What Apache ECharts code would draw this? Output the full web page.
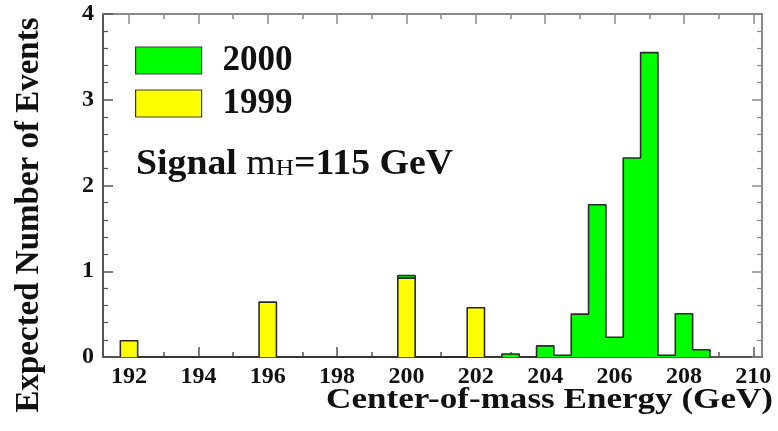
<!DOCTYPE html>
<html>
<head>
<meta charset="utf-8">
<script src="https://cdn.jsdelivr.net/npm/echarts@6/dist/echarts.min.js"></script>
<style>
  html, body { margin: 0; padding: 0; background: #ffffff; }
  #chart { width: 778px; height: 431px; }
</style>
</head>
<body>
<div id="chart"></div>
<script>
// Expected signal events per 0.5 GeV bin of centre-of-mass energy
const energies1999 = [192, 196, 200, 202];
const events1999   = [0.19, 0.64, 0.92, 0.575];

const energies2000 = [200, 203, 204, 204.5, 205, 205.5, 206, 206.5, 207, 207.5, 208, 208.5];
const events2000   = [0.03, 0.035, 0.13, 0.02, 0.50, 1.775, 0.23, 2.32, 3.55, 0.02, 0.505, 0.085];

const xMajorTicks = [192, 194, 196, 198, 200, 202, 204, 206, 208, 210];
const xMinorTicks = [193, 195, 197, 199, 201, 203, 205, 207, 209];

const BIN_WIDTH = 0.5;
const X_MIN = 191.25;
const X_MAX = 210.25;

const FONT = '"Liberation Serif", "Times New Roman", serif';
const GREEN = '#00ff00';
const YELLOW = '#ffff00';
const OUTLINE = '#2a2a2a';

// bin index -> value
function binMap(centers, values) {
  const m = new Map();
  centers.forEach((c, i) => m.set(Math.round(c / BIN_WIDTH), values[i]));
  return m;
}

// histogram contour as left-edge points, drawn with step:'end'
function stepOutline(map, first, last) {
  const pts = [[(first - 0.5) * BIN_WIDTH, 0]];
  for (let k = first; k <= last; k++) {
    pts.push([(k - 0.5) * BIN_WIDTH, map.get(k) || 0]);
  }
  pts.push([(last + 0.5) * BIN_WIDTH, map.get(last) || 0]);
  pts.push([(last + 0.5) * BIN_WIDTH, 0]);
  return pts;
}

const map1999 = binMap(energies1999, events1999);
const map2000 = binMap(energies2000, events2000);

// 2000 is stacked on top of 1999
const mapTotal = new Map(map2000);
map1999.forEach((v, k) => { if (mapTotal.has(k)) mapTotal.set(k, mapTotal.get(k) + v); });

const idx1999 = energies1999.map(c => Math.round(c / BIN_WIDTH));
const idx2000 = energies2000.map(c => Math.round(c / BIN_WIDTH));

const outline1999 = stepOutline(map1999, Math.min(...idx1999), Math.max(...idx1999));
const outline2000 = stepOutline(mapTotal, Math.min(...idx2000), Math.max(...idx2000));

const frameDark = '#555555';
const frameLight = '#8a8a8a';

function xAxisDef(position, values, length, showLine, showLabel, color) {
  return {
    type: 'value',
    position: position,
    min: X_MIN,
    max: X_MAX,
    splitLine: { show: false },
    axisLine: { show: showLine, onZero: false, lineStyle: { color: color, width: 2 } },
    axisTick: { show: true, inside: true, length: length, customValues: values,
                lineStyle: { color: color, width: 1.5 } },
    axisLabel: showLabel ? {
      show: true, customValues: values, margin: 8,
      fontFamily: FONT, fontWeight: 'bold', fontSize: 24, color: '#111111'
    } : { show: false }
  };
}

function yAxisDef(position, showLabel, color) {
  return {
    type: 'value',
    position: position,
    min: 0,
    max: 4,
    interval: 1,
    splitLine: { show: false },
    minorSplitLine: { show: false },
    axisLine: { show: true, onZero: false, lineStyle: { color: color, width: 2 } },
    axisTick: { show: true, inside: true, length: 10, lineStyle: { color: color, width: 1.5 } },
    minorTick: { show: true, splitNumber: 5, length: 5, lineStyle: { color: color, width: 1.2 } },
    axisLabel: showLabel ? {
      show: true, margin: 9,
      fontFamily: FONT, fontWeight: 'bold', fontSize: 24, color: '#111111'
    } : { show: false }
  };
}

const chart = echarts.init(document.getElementById('chart'), null, { renderer: 'canvas' });

chart.setOption({
  animation: false,
  backgroundColor: '#ffffff',
  grid: { left: 103, right: 16, top: 14, bottom: 74 },
  xAxis: [
    xAxisDef('bottom', xMajorTicks, 10, true, true, frameDark),
    xAxisDef('bottom', xMinorTicks, 5, false, false, frameDark),
    xAxisDef('top', xMajorTicks, 10, true, false, frameLight),
    xAxisDef('top', xMinorTicks, 5, false, false, frameLight)
  ],
  yAxis: [
    yAxisDef('left', true, frameDark),
    yAxisDef('right', false, frameLight)
  ],
  legend: {
    orient: 'vertical',
    left: 130,
    top: 38,
    itemWidth: 66,
    itemHeight: 27,
    itemGap: 8,
    icon: 'rect',
    selectedMode: false,
    data: [
      { name: '2000', itemStyle: { color: GREEN, borderColor: '#3a3a3a', borderWidth: 1.2 } },
      { name: '1999', itemStyle: { color: YELLOW, borderColor: '#3a3a3a', borderWidth: 1.2 } }
    ],
    textStyle: {
      fontFamily: FONT, fontWeight: 'bold', fontSize: 35, color: '#111111',
      padding: [0, 0, 0, 16]
    }
  },
  series: [
    {
      name: '2000',
      type: 'line',
      xAxisIndex: 0,
      yAxisIndex: 0,
      step: 'end',
      data: outline2000,
      symbol: 'none',
      showSymbol: false,
      silent: true,
      z: 2,
      itemStyle: { color: GREEN },
      lineStyle: { color: OUTLINE, width: 1.6 },
      areaStyle: { color: GREEN, opacity: 1 }
    },
    {
      name: '1999',
      type: 'line',
      xAxisIndex: 0,
      yAxisIndex: 0,
      step: 'end',
      data: outline1999,
      symbol: 'none',
      showSymbol: false,
      silent: true,
      z: 3,
      itemStyle: { color: YELLOW },
      lineStyle: { color: OUTLINE, width: 1.6 },
      areaStyle: { color: YELLOW, opacity: 1 }
    }
  ],
  graphic: [
    {
      type: 'text',
      x: 773,
      y: 401,
      scaleX: 1.21,
      style: {
        text: 'Center-of-mass Energy (GeV)',
        font: 'bold 29px ' + FONT,
        fill: '#111111',
        align: 'right',
        verticalAlign: 'middle'
      }
    },
    {
      type: 'text',
      x: 29,
      y: 215,
      rotation: Math.PI / 2,
      style: {
        text: 'Expected Number of Events',
        font: 'bold 33px ' + FONT,
        fill: '#111111',
        align: 'center',
        verticalAlign: 'middle'
      }
    },
    {
      type: 'text',
      x: 136,
      y: 163,
      scaleX: 1.05,
      style: {
        text: '{b|Signal }{m|m}{s|H}{b|=115 GeV}',
        align: 'left',
        verticalAlign: 'middle',
        fill: '#111111',
        rich: {
          b: { fontFamily: FONT, fontWeight: 'bold', fontSize: 36, verticalAlign: 'bottom', lineHeight: 40 },
          m: { fontFamily: FONT, fontWeight: 'normal', fontSize: 36, verticalAlign: 'bottom', lineHeight: 40 },
          s: { fontFamily: FONT, fontWeight: 'normal', fontSize: 24, verticalAlign: 'bottom', lineHeight: 40,
               padding: [0, 0, 2, 0] }
        }
      }
    }
  ]
});
</script>
</body>
</html>
